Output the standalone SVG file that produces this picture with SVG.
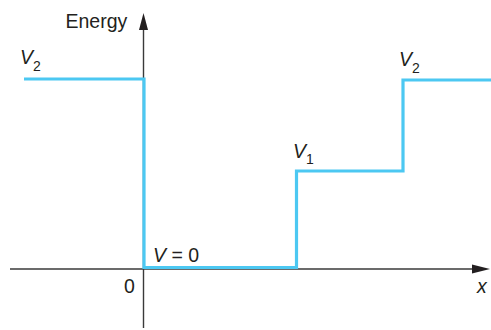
<svg xmlns="http://www.w3.org/2000/svg" width="491" height="330" viewBox="0 0 491 330">
<style>
.ax{stroke:#3a3a3a;stroke-width:1.4;fill:none}
.pot{stroke:#4cc8f2;stroke-width:3.2;fill:none;stroke-linejoin:miter}
text{font-family:"Liberation Sans",Arial,sans-serif;font-size:19.5px;fill:#231f20}
.it{font-style:italic}
.sub{font-size:14px}
</style>
<rect width="491" height="330" fill="#fff"/>
<g id="axes">
<line class="ax" x1="143.5" y1="328" x2="143.5" y2="24"/>
<polygon points="143.5,13 139,30 148,30" fill="#231f20"/>
<line class="ax" x1="10" y1="269" x2="476" y2="269"/>
<polygon points="490,269 472,264.5 472,273.5" fill="#231f20"/>
</g>
<g id="potential">
<polyline class="pot" points="24,79 144,79 144,267.5 296.5,267.5 296.5,171 403,171 403,80 491,80"/>
</g>
<g id="labels">
<text x="65.5" y="27.5" font-size="20.5">Energy</text>
<text x="20" y="64" class="it">V<tspan class="sub" dy="7" font-style="normal">2</tspan></text>
<text x="399" y="65.5" class="it">V<tspan class="sub" dy="7" font-style="normal">2</tspan></text>
<text x="293" y="158" class="it">V<tspan class="sub" dy="6" font-style="normal">1</tspan></text>
<text x="153" y="261.5"><tspan class="it">V</tspan> = 0</text>
<text x="124" y="293">0</text>
<text x="477" y="293" class="it">x</text>
</g>
</svg>
